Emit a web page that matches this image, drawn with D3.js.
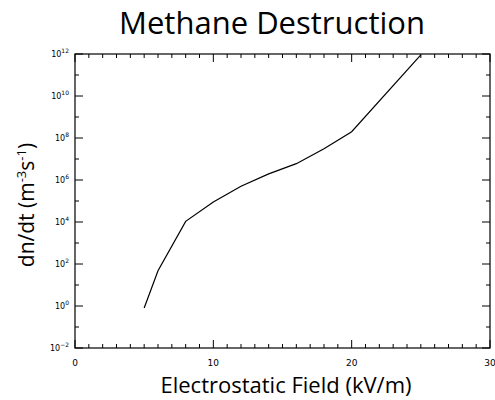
<!DOCTYPE html>
<html><head><meta charset="utf-8">
<script src="https://cdn.jsdelivr.net/npm/d3@7"></script>
<style>body{margin:0;background:#fff}svg{display:block}</style>
</head><body><svg id="c" width="495" height="400"></svg>
<script>
const fieldKVm = [5, 6, 8, 10, 12, 14, 16, 18, 20, 25];
const rate = [0.8, 48, 1.07e4, 9e4, 5e5, 1.95e6, 6e6, 3.1e7, 2e8, 9e11];
const xTickLabels = [0, 10, 20, 30];
const yTickExponents = [-2, 0, 2, 4, 6, 8, 10, 12];
const titleText = "Methane Destruction";
const xLabel = "Electrostatic Field (kV/m)";

const svg = d3.select("#c");
const L = 75, R = 490, T = 54, B = 348;
const x = d3.scaleLinear().domain([0, 30]).range([L, R]);
const y = d3.scaleLog().domain([1e-2, 1e12]).range([B, T]);

svg.append("text").attr("x", 272).attr("y", 34).attr("text-anchor", "middle")
  .attr("font-family", "Open Sans").attr("font-size", 31).attr("fill", "#000").text(titleText);

const ax = svg.append("g").attr("stroke", "#000").attr("stroke-width", 1);
ax.append("rect").attr("x", L).attr("y", T).attr("width", R - L).attr("height", B - T)
  .attr("fill", "none").attr("stroke", "#000").attr("stroke-width", 1.2);

// x ticks
d3.range(0, 31).forEach(v => {
  const len = v % 10 === 0 ? 8 : 4;
  const px = x(v);
  ax.append("line").attr("x1", px).attr("x2", px).attr("y1", B).attr("y2", B - len);
  ax.append("line").attr("x1", px).attr("x2", px).attr("y1", T).attr("y2", T + len);
});
// y ticks
d3.range(-2, 13).forEach(e => {
  const len = e % 2 === 0 ? 8 : 4;
  const py = y(Math.pow(10, e));
  ax.append("line").attr("x1", L).attr("x2", L + len).attr("y1", py).attr("y2", py);
  ax.append("line").attr("x1", R).attr("x2", R - len).attr("y1", py).attr("y2", py);
});

xTickLabels.forEach(v => {
  svg.append("text").attr("x", x(v)).attr("y", 366).attr("text-anchor", "middle")
    .attr("font-family", "DejaVu Sans").attr("font-size", 9).text(v);
});
yTickExponents.forEach(e => {
  const t = svg.append("text").attr("x", 69).attr("y", y(Math.pow(10, e)) + 3)
    .attr("text-anchor", "end").attr("font-family", "DejaVu Sans").attr("font-size", 8);
  t.append("tspan").text("10");
  t.append("tspan").attr("dy", -4).attr("font-size", 6).text(e < 0 ? "\u2212" + (-e) : e);
});

svg.append("text").attr("x", 286).attr("y", 393).attr("text-anchor", "middle")
  .attr("font-family", "Open Sans").attr("font-size", 22).text(xLabel);

const yl = svg.append("text").attr("transform", "translate(34,205) rotate(-90)")
  .attr("text-anchor", "middle").attr("font-family", "Open Sans").attr("font-size", 21);
yl.append("tspan").text("dn/dt (m");
yl.append("tspan").attr("dy", -8).attr("font-size", 13).text("-3");
yl.append("tspan").attr("dy", 8).text("s");
yl.append("tspan").attr("dy", -8).attr("font-size", 13).text("-1");
yl.append("tspan").attr("dy", 8).text(")");

const line = d3.line().x((d, i) => x(fieldKVm[i])).y(d => y(d));
svg.append("path").attr("d", line(rate)).attr("fill", "none").attr("stroke", "#000").attr("stroke-width", 1.2);
</script></body></html>
